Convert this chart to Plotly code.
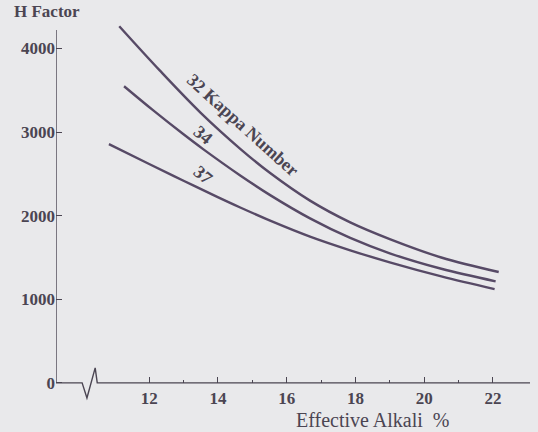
import plotly.graph_objects as go

# Effective alkali (%) vs H factor, one curve per target kappa number
ea_32 = [11.13, 12.3, 13.5, 14.65, 15.52, 16.68, 17.85, 19.0, 20.5, 22.17]
h_32 = [4265, 3740, 3230, 2800, 2510, 2180, 1920, 1720, 1500, 1326]

ea_34 = [11.27, 12.12, 13.0, 13.57, 14.65, 15.52, 16.68, 17.85, 19.0, 20.5, 22.08]
h_34 = [3548, 3259, 2973, 2796, 2481, 2246, 1968, 1734, 1550, 1365, 1215]

ea_37 = [10.83, 12.0, 13.0, 13.98, 14.65, 15.52, 16.68, 17.85, 19.0, 20.5, 22.05]
h_37 = [2855, 2618, 2418, 2225, 2098, 1941, 1750, 1586, 1442, 1274, 1122]

x_ticks = [12, 14, 16, 18, 20, 22]
x_minor = [13, 15, 17, 19, 21]
y_ticks = [0, 1000, 2000, 3000, 4000]

X_MIN, X_MAX = 9.29, 23.08
Y_MIN, Y_MAX = -300, 4400
Y_AXIS_TOP = 4220

INK = "#4b4552"
CURVE = "#574a66"
BG = "#e9e9eb"
SERIF = "Liberation Serif, Times New Roman, serif"

fig = go.Figure()
for xs, ys in [(ea_32, h_32), (ea_34, h_34), (ea_37, h_37)]:
    fig.add_trace(go.Scatter(
        x=xs, y=ys, mode="lines",
        line=dict(color=CURVE, width=2.4, shape="spline", smoothing=1.0),
        hoverinfo="skip", showlegend=False,
    ))

axis_style = dict(color=INK, width=1.4)
shapes = [
    # vertical axis
    dict(type="line", xref="x", yref="y", x0=X_MIN, x1=X_MIN, y0=0, y1=Y_AXIS_TOP,
         line=axis_style),
    # horizontal axis with a zigzag break near the origin
    dict(type="path", xref="x", yref="y",
         path=f"M {X_MIN},0 L 10.05,0 L 10.19,-180 L 10.43,180 L 10.49,0 L {X_MAX},0",
         line=axis_style),
]

label_font = dict(family=SERIF, size=18, color=INK)
annotations = [
    dict(text="<b>32 Kappa Number</b>", x=14.72, y=3080, xref="x", yref="y",
         textangle=42, showarrow=False, font=label_font),
    dict(text="<b>34</b>", x=13.57, y=2965, xref="x", yref="y",
         textangle=40, showarrow=False, font=label_font),
    dict(text="<b>37</b>", x=13.57, y=2485, xref="x", yref="y",
         textangle=40, showarrow=False, font=label_font),
    dict(text="<b>H Factor</b>", x=-0.019, y=1.008, xref="paper", yref="paper",
         xanchor="center", yanchor="middle", showarrow=False,
         font=dict(family=SERIF, size=17, color=INK)),
    dict(text="Effective Alkali  %", x=18.5, y=-0.03, xref="x", yref="paper",
         xanchor="center", yanchor="middle", showarrow=False,
         font=dict(family=SERIF, size=20, color=INK)),
]

tick_font = dict(family=SERIF, size=17, color=INK)
fig.update_layout(
    width=538, height=432,
    margin=dict(l=56, r=8, t=15, b=24),
    paper_bgcolor=BG, plot_bgcolor=BG,
    shapes=shapes, annotations=annotations,
    xaxis=dict(
        range=[X_MIN, X_MAX], anchor="free",
        position=(0 - Y_MIN) / (Y_MAX - Y_MIN),
        showgrid=False, zeroline=False, showline=False,
        tickvals=x_ticks, ticktext=[f"<b>{v}</b>" for v in x_ticks],
        ticks="inside", ticklen=6, tickwidth=1.2, tickcolor=INK,
        minor=dict(tickvals=x_minor, ticks="inside", ticklen=3, tickwidth=1.2, tickcolor=INK),
        tickfont=tick_font, ticklabelstandoff=3,
    ),
    yaxis=dict(
        range=[Y_MIN, Y_MAX],
        showgrid=False, zeroline=False, showline=False,
        tickvals=y_ticks, ticktext=[f"<b>{v}</b>" for v in y_ticks],
        ticks="inside", ticklen=6, tickwidth=1.2, tickcolor=INK,
        tickfont=tick_font,
    ),
)

fig.write_html("out.html")
